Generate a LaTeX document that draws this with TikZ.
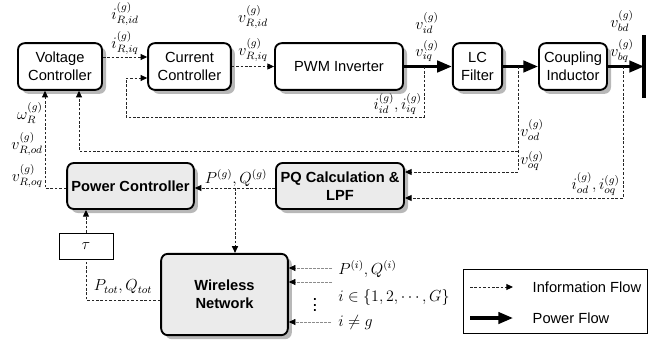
\documentclass[tikz,border=0pt]{standalone}
\usepackage{fontspec}
\setmainfont{Liberation Sans}
\usetikzlibrary{arrows.meta,shadows}
\begin{document}
\begin{tikzpicture}[x=0.75pt,y=-0.75pt,
  font=\fontsize{11}{13.5}\selectfont,
  box/.style={draw, line width=1.4pt, rounded corners=5pt, align=center, inner sep=0pt,
    fill=white, minimum height=35pt,
    drop shadow={shadow xshift=3pt, shadow yshift=-3pt, fill=black!28, opacity=1}},
  gbox/.style={box, fill=black!8, font=\fontsize{11}{13.5}\selectfont\bfseries},
  tip/.style={-{Triangle[length=5pt,width=4.5pt,color=black]}},
  infoline/.style={line width=0.7pt, draw=black!85, dash pattern=on 2pt off 1.3pt},
  info/.style={infoline, tip},
  ginfo/.style={line width=0.5pt, draw=black!45, dash pattern=on 2pt off 1pt, tip},
  pow/.style={line width=2.4pt, -{Triangle[length=11pt,width=8.5pt]}},
  lbl/.style={inner sep=0pt, font=\fontsize{12}{14}\selectfont}]
\useasboundingbox (0,0) rectangle (663,343);

% ---- upper chain ----
\node[box, minimum width=63pt] (vc) at (60,66.5) {Voltage\\Controller};
\node[box, minimum width=62pt] (cc) at (189.5,66.5) {Current\\Controller};
\node[box, minimum width=96pt] (pwm) at (339,66.5) {PWM Inverter};
\node[box, minimum width=37pt] (lc) at (477.5,66.5) {LC\\Filter};
\node[box, minimum width=51pt] (ci) at (573,66.5) {Coupling\\Inductor};

% ---- lower blocks ----
\node[gbox, minimum width=95pt, minimum height=34.5pt] (pc) at (130.5,186) {Power Controller};
\node[gbox, minimum width=96pt, minimum height=34.5pt] (pq) at (340,186) {PQ Calculation \&\\LPF};
\node[gbox, minimum width=95pt, minimum height=61pt] (wn) at (224.5,294.5) {Wireless\\Network};
\node[draw, line width=0.6pt, minimum width=40.5pt, minimum height=20pt, inner sep=0pt,
  font=\fontsize{12}{14}\selectfont] (tau) at (86,246.5) {$\tau$};

% ---- bus ----
\coordinate (busT) at (644,35);
\coordinate (busB) at (644,98);
\coordinate (bus) at (644,66.5);
\draw[line width=3pt] (busT) -- (busB);

% ---- power flow ----
\draw[pow] (pwm.east) -- (lc.west);
\draw[pow] (lc.east) -- (ci.west);
\draw[pow] (ci.east) -- (bus);

% ---- references ----
\draw[info] (vc.east |- 0,57) -- (cc.west |- 0,57);
\draw[info] (cc.east) -- (pwm.west);

% ---- measurement feedback ----
\coordinate (tapI) at (424,66.5);
\coordinate (tapV) at (518,66.5);
\coordinate (tapO) at (623,66.5);
\draw[info] (tapI) -- (424,117) -- (126,117) -- (126,78) -- (cc.west |- 0,78);
\draw[info] (tapV) -- (518,172) -- (pq.east |- 0,172);
\draw[info] (518,151) -- (79,151) -- (vc.south -| 79,0);
\draw[info] (tapO) -- (623,198) -- (pq.east |- 0,198);

% ---- power loop ----
\draw[info] (pq.west |- 0,188) -- (pc.east |- 0,188);
\draw[info] (235,188) -- (wn.north -| 235,0);
\draw[info] (pc.west |- 0,188) -- (45,188) -- (vc.south -| 45,0);
\draw[info] (tau.north) -- (pc.south -| tau.north);
\draw[infoline] (wn.west |- 0,300) -- (86,300) -- (tau.south);

% ---- inputs from the other units ----
\coordinate (in1) at (332,268);
\coordinate (in2) at (332,282);
\coordinate (in3) at (331,322);
\draw[ginfo] (in1) -- (wn.east |- in1);
\draw[ginfo] (in2) -- (wn.east |- in2);
\draw[ginfo] (in3) -- (wn.east |- in3);

% ---- signal labels ----
\node[lbl] at (125,14) {$i^{(g)}_{R,id}$};
\node[lbl] at (125,43) {$i^{(g)}_{R,iq}$};
\node[lbl] at (253,17) {$v^{(g)}_{R,id}$};
\node[lbl] at (253,50) {$v^{(g)}_{R,iq}$};
\node[lbl] at (427,23) {$v^{(g)}_{id}$};
\node[lbl] at (427,51) {$v^{(g)}_{iq}$};
\node[lbl] at (622,21) {$v^{(g)}_{bd}$};
\node[lbl] at (622,51) {$v^{(g)}_{bq}$};
\node[lbl, anchor=east] at (422,104) {$i^{(g)}_{id},i^{(g)}_{iq}$};
\node[lbl, anchor=east] at (43,113) {$\omega^{(g)}_{R}$};
\node[lbl, anchor=east] at (43,144) {$v^{(g)}_{R,od}$};
\node[lbl, anchor=east] at (43,176) {$v^{(g)}_{R,oq}$};
\node[lbl, anchor=west] at (520,130) {$v^{(g)}_{od}$};
\node[lbl, anchor=west] at (520,161) {$v^{(g)}_{oq}$};
\node[lbl, anchor=east] at (620,184) {$i^{(g)}_{od},i^{(g)}_{oq}$};
\node[lbl] at (236,178) {$P^{(g)},Q^{(g)}$};
\node[lbl] at (123,287) {$P_{tot},Q_{tot}$};
\node[lbl, anchor=west] at (338,269) {$P^{(i)},Q^{(i)}$};
\node[lbl, font=\fontsize{14}{14}\selectfont] at (315,301) {$\vdots$};
\node[lbl, anchor=west] at (338,297) {$i\in\{1,2,\cdots,G\}$};
\node[lbl, anchor=west] at (338,322) {$i\neq g$};

% ---- legend ----
\coordinate (legA) at (463,269);
\coordinate (legB) at (647,333);
\draw[line width=0.7pt] (legA) rectangle (legB);
\coordinate (li1) at (470,287);
\coordinate (li2) at (513,287);
\coordinate (lp1) at (470,318);
\coordinate (lp2) at (513,318);
\draw[info] (li1) -- (li2);
\draw[pow] (lp1) -- (lp2);
\node[anchor=west] at (528,287) {Information Flow};
\node[anchor=west] at (528,318) {Power Flow};
\end{tikzpicture}
\end{document}
